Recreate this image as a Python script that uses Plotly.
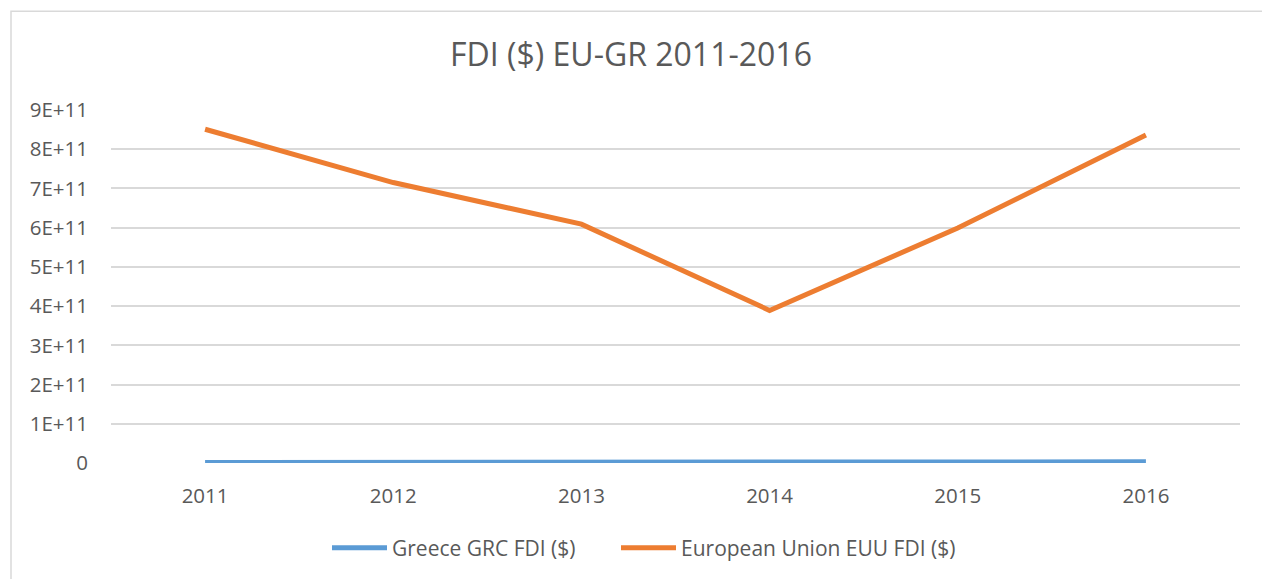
import plotly.graph_objects as go

years = ["2011", "2012", "2013", "2014", "2015", "2016"]
greece_fdi = [1.14e9, 1.74e9, 2.95e9, 2.69e9, 1.27e9, 2.98e9]
eu_fdi = [8.51e11, 7.15e11, 6.09e11, 3.89e11, 5.99e11, 8.36e11]
y_tickvals = [0, 1e11, 2e11, 3e11, 4e11, 5e11, 6e11, 7e11, 8e11, 9e11]
y_ticktext = ["0", "1E+11", "2E+11", "3E+11", "4E+11", "5E+11", "6E+11", "7E+11", "8E+11", "9E+11"]

W, H = 1262, 579
L, R, T, B = 111, 22, 110, 115
pw, ph = W - L - R, H - T - B

FONT = "Open Sans"
GREY = "#595959"

fig = go.Figure()
fig.add_trace(go.Scatter(x=years, y=greece_fdi, mode="lines", name="Greece GRC FDI ($)",
                         line=dict(color="#5b9bd5", width=5), legend="legend"))
fig.add_trace(go.Scatter(x=years, y=eu_fdi, mode="lines", name="European Union EUU FDI ($)",
                         line=dict(color="#ed7d31", width=5), legend="legend2"))

leg_common = dict(orientation="h", xanchor="left", y=(464 - 548) / ph, yanchor="middle",
                  font=dict(size=21, color=GREY, family=FONT), itemwidth=55,
                  bgcolor="rgba(0,0,0,0)")

fig.update_layout(
    width=W, height=H,
    margin=dict(l=L, r=R, t=T, b=B),
    paper_bgcolor="white", plot_bgcolor="white",
    font=dict(family=FONT, color=GREY),
    title=dict(text="FDI ($) EU-GR 2011-2016", x=0.5, xanchor="center",
               y=1 - 55 / H, yref="container", yanchor="middle",
               font=dict(size=32, color=GREY, family=FONT)),
    showlegend=True,
    legend=dict(x=(332 - 5 - L) / pw, **leg_common),
    legend2=dict(x=(621 - 5 - L) / pw, **leg_common),
    xaxis=dict(type="category", range=[-0.5, 5.5], showgrid=False, zeroline=False,
               showline=False, ticks="", tickfont=dict(size=20.5, color=GREY),
               ticklabelstandoff=18),
    yaxis=dict(range=[0, 9e11], tickvals=y_tickvals, ticktext=y_ticktext,
               showgrid=True, gridcolor="#d9d9d9", gridwidth=1.5, zeroline=False,
               showline=False, ticks="", tickfont=dict(size=20.5, color=GREY),
               ticklabelstandoff=22),
)

fig.add_shape(type="rect", xref="paper", yref="paper",
              x0=(11 - L) / pw, x1=(W + 20 - L) / pw,
              y0=(464 - (H + 20)) / ph, y1=(464 - 11) / ph,
              line=dict(color="#d9d9d9", width=1.5), fillcolor="rgba(0,0,0,0)", layer="below")

fig.write_html("out.html", config={"displayModeBar": False})

with open("out.html", "r", encoding="utf-8") as f:
    html = f.read()
html = html.replace("<head>", "<head><style>html,body{margin:0;padding:0;overflow:hidden;}</style>", 1)
with open("out.html", "w", encoding="utf-8") as f:
    f.write(html)
